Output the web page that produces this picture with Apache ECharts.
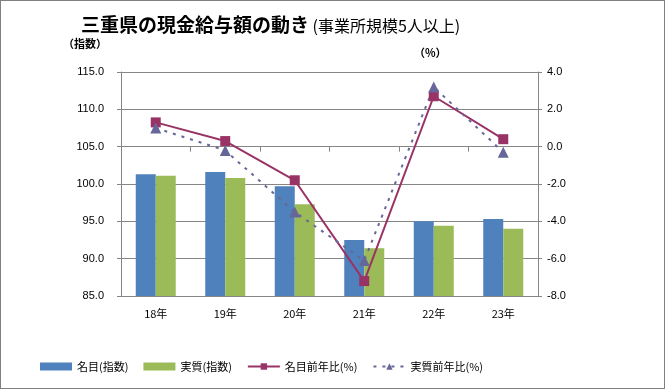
<!DOCTYPE html>
<html><head><meta charset="utf-8">
<script src="https://cdn.jsdelivr.net/npm/echarts@6/dist/echarts.min.js"></script>
<style>html,body{margin:0;padding:0;background:#fff}#c{width:665px;height:389px;box-sizing:border-box;border:1px solid #808080}</style>
</head><body><div id="c"></div>
<script>
const categories = ['18年','19年','20年','21年','22年','23年'];
const nominalIndex = [101.3, 101.6, 99.7, 92.5, 95.0, 95.3];
const realIndex = [101.1, 100.8, 97.3, 91.4, 94.4, 94.0];
const nominalYoY = [1.3, 0.3, -1.8, -7.2, 2.7, 0.4];
const realYoY = [1.0, -0.2, -3.5, -6.1, 3.2, -0.3];

const jp = '"Noto Sans CJK JP", sans-serif';
const num = '"Liberation Sans", Arial, sans-serif';
const axisGray = '#868686';
const chart = echarts.init(document.getElementById('c'));
chart.setOption({
  animation: false,
  title: {
    left: 75, top: 9,
    text: '{a|三重県の現金給与額の動き}{b| (事業所規模5人以上)}',
    textStyle: { rich: {
      a: { fontFamily: jp, fontSize: 19, fontWeight: 'bold', color: '#000' },
      b: { fontFamily: jp, fontSize: 16, fontWeight: 'normal', color: '#000', padding: [2,0,0,0] }
    }}
  },
  graphic: [
    { type: 'text', left: 62, top: 37, style: { text: '（指数）', font: 'bold 11px ' + jp, fill: '#000' } },
    { type: 'text', left: 413, top: 46, style: { text: '（%）', font: 'bold 11px ' + jp, fill: '#000' } }
  ],
  legend: {
    bottom: 11, left: 34, itemWidth: 32, itemHeight: 8, itemGap: 15,
    textStyle: { fontFamily: jp, fontSize: 11, color: '#000' },
    data: [
      { name: '名目(指数)', icon: 'rect' },
      { name: '実質(指数)', icon: 'rect' },
      { name: '名目前年比(%)' },
      { name: '実質前年比(%)' }
    ]
  },
  grid: { left: 120, right: 126, top: 71, height: 224 },
  xAxis: {
    type: 'category', data: categories, boundaryGap: true,
    axisLine: { lineStyle: { color: axisGray } },
    axisTick: { show: true, length: 5, lineStyle: { color: axisGray } },
    axisLabel: { fontFamily: jp, fontSize: 11, color: '#000', margin: 12 }
  },
  yAxis: [
    { type: 'value', min: 85, max: 115, interval: 5,
      axisLine: { show: true, lineStyle: { color: axisGray } },
      axisTick: { show: true, length: 4, lineStyle: { color: axisGray } },
      splitLine: { lineStyle: { color: axisGray } },
      axisLabel: { fontFamily: num, fontSize: 11, color: '#000', margin: 17, formatter: v => v.toFixed(1) } },
    { type: 'value', min: -8, max: 4, interval: 2, position: 'right',
      axisLine: { show: true, lineStyle: { color: axisGray } },
      axisTick: { show: true, length: 4, lineStyle: { color: axisGray } },
      splitLine: { show: false },
      axisLabel: { fontFamily: num, fontSize: 11, color: '#000', margin: 9, formatter: v => v.toFixed(1) } }
  ],
  series: [
    { name: '名目(指数)', type: 'bar', data: nominalIndex, barWidth: 20, barGap: '0%', itemStyle: { color: '#4F81BD' } },
    { name: '実質(指数)', type: 'bar', data: realIndex, barWidth: 20, barGap: '0%', itemStyle: { color: '#9BBB59' } },
    { name: '名目前年比(%)', type: 'line', yAxisIndex: 1, data: nominalYoY, symbol: 'rect', symbolSize: 10,
      itemStyle: { color: '#993366' }, lineStyle: { color: '#993366', width: 2 } },
    { name: '実質前年比(%)', type: 'line', yAxisIndex: 1, data: realYoY, symbol: 'triangle', symbolSize: 11,
      itemStyle: { color: '#666699' }, lineStyle: { color: '#666699', width: 2, type: [3, 6] } }
  ]
});
</script></body></html>
